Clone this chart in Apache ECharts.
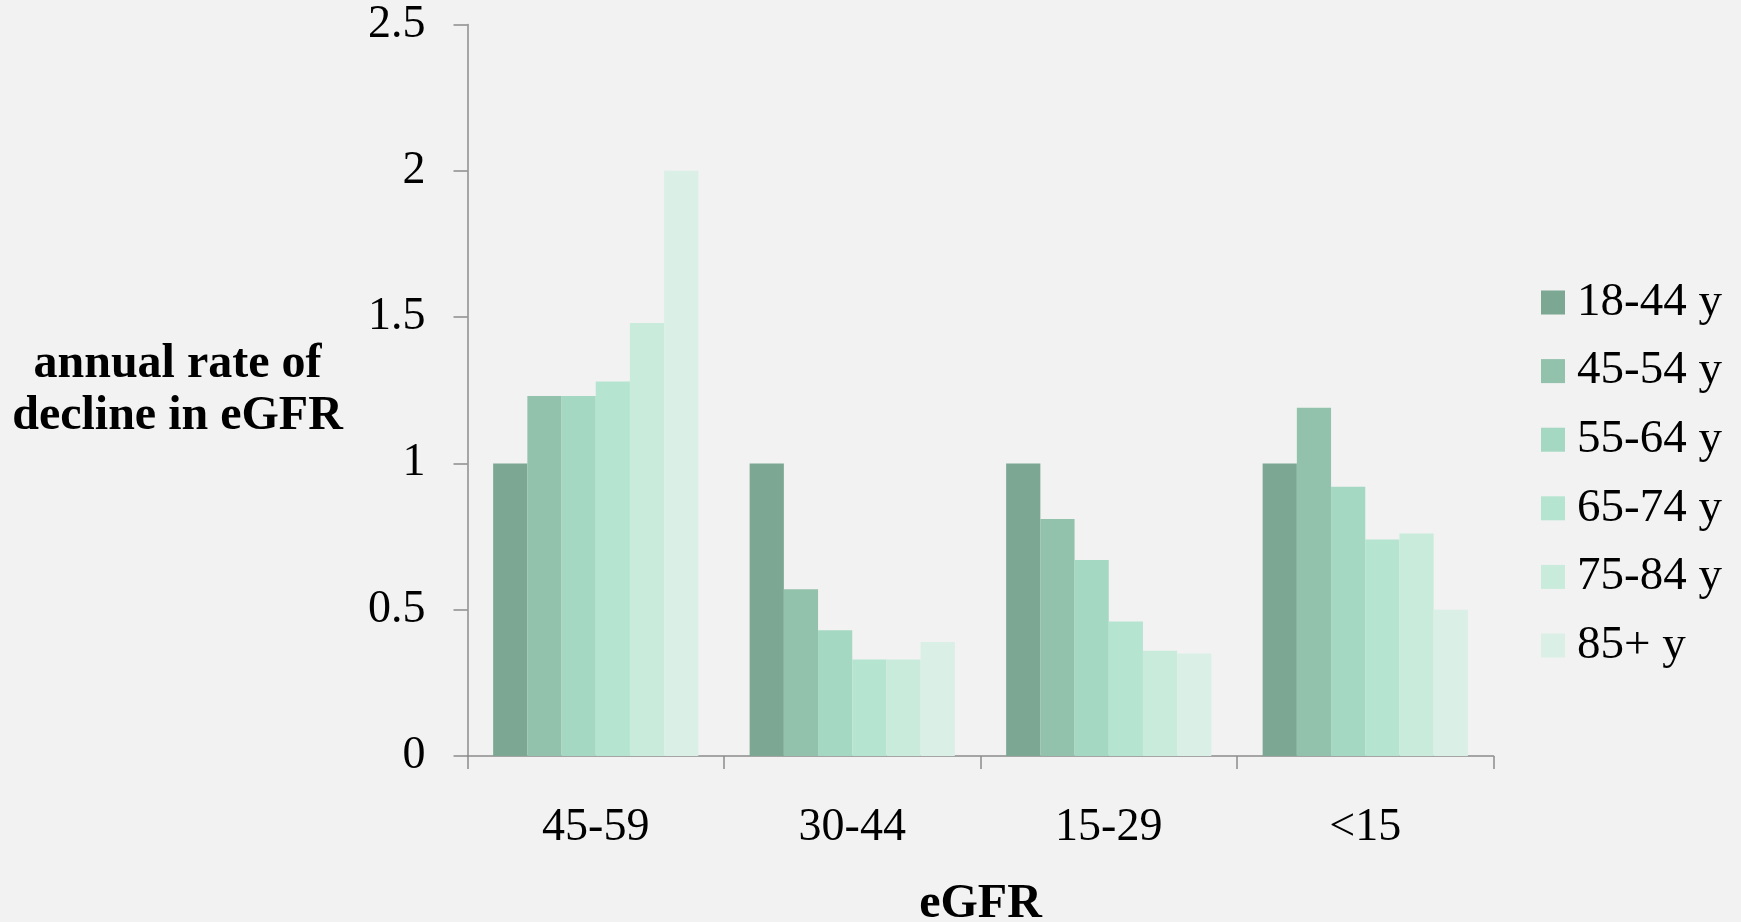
<!DOCTYPE html>
<html>
<head>
<meta charset="utf-8">
<script src="https://cdn.jsdelivr.net/npm/echarts@6/dist/echarts.min.js"></script>
<style>
  html, body { margin: 0; padding: 0; background: #F2F2F2; }
  #chart { width: 1741px; height: 922px; }
</style>
</head>
<body>
<div id="chart"></div>
<script>
// eGFR stage categories along the x axis
const categories = ['45-59', '30-44', '15-29', '<15'];

// Age groups (one series each)
const ageGroups = ['18-44 y', '45-54 y', '55-64 y', '65-74 y', '75-84 y', '85+ y'];

// Annual rate of decline in eGFR per age group, by eGFR stage
const age18to44 = [1.00, 1.00, 1.00, 1.00];
const age45to54 = [1.23, 0.57, 0.81, 1.19];
const age55to64 = [1.23, 0.43, 0.67, 0.92];
const age65to74 = [1.28, 0.33, 0.46, 0.74];
const age75to84 = [1.48, 0.33, 0.36, 0.76];
const age85plus = [2.00, 0.39, 0.35, 0.50];

const yTicks = [0, 0.5, 1, 1.5, 2, 2.5];

const seriesValues = [age18to44, age45to54, age55to64, age65to74, age75to84, age85plus];
const palette = ['#7BA793', '#92C1AC', '#A4D8C2', '#B5E4D1', '#C9EBDC', '#DAF0E7'];

const FONT = '"Liberation Serif", "Times New Roman", serif';
const axisColor = '#8C8C8C';

const chart = echarts.init(document.getElementById('chart'), null, { renderer: 'canvas' });

chart.setOption({
  backgroundColor: '#F2F2F2',
  animation: false,
  color: palette,
  grid: {
    left: 467.5,
    right: 247.5,
    top: 24.5,
    bottom: 166,
    containLabel: false,
    outerBoundsMode: 'none'
  },
  legend: {
    orient: 'vertical',
    left: 1536,
    top: 274,
    itemWidth: 24,
    itemHeight: 24,
    itemGap: 21.6,
    icon: 'rect',
    textStyle: { fontFamily: FONT, fontSize: 47, color: '#000', padding: [0, 0, 0, 7] },
    data: ageGroups
  },
  xAxis: {
    type: 'category',
    data: categories,
    name: 'eGFR',
    nameLocation: 'middle',
    nameGap: 149,
    nameTextStyle: { fontFamily: FONT, fontSize: 48, fontWeight: 'bold', color: '#000', verticalAlign: 'middle' },
    axisLine: { lineStyle: { color: axisColor, width: 1.5 } },
    axisTick: { show: true, length: 13, lineStyle: { color: axisColor, width: 1.5 } },
    axisLabel: { fontFamily: FONT, fontSize: 46, color: '#000', margin: 49 }
  },
  yAxis: {
    type: 'value',
    min: yTicks[0],
    max: yTicks[yTicks.length - 1],
    interval: 0.5,
    name: 'annual rate of\ndecline in eGFR',
    nameLocation: 'middle',
    nameRotate: 0,
    nameGap: 290,
    nameTextStyle: {
      fontFamily: FONT, fontSize: 48, fontWeight: 'bold', color: '#000',
      align: 'center', verticalAlign: 'middle', lineHeight: 52,
      padding: [6, 0, 0, 0]
    },
    splitLine: { show: false },
    axisLine: { show: true, lineStyle: { color: axisColor, width: 1.5 } },
    axisTick: { show: true, length: 14, lineStyle: { color: axisColor, width: 1.5 } },
    axisLabel: { fontFamily: FONT, fontSize: 46, color: '#000', margin: 42 }
  },
  series: ageGroups.map((name, i) => ({
    name: name,
    type: 'bar',
    data: seriesValues[i],
    barGap: '0%',
    barCategoryGap: '20%',
    itemStyle: { color: palette[i] }
  }))
});
</script>
</body>
</html>
